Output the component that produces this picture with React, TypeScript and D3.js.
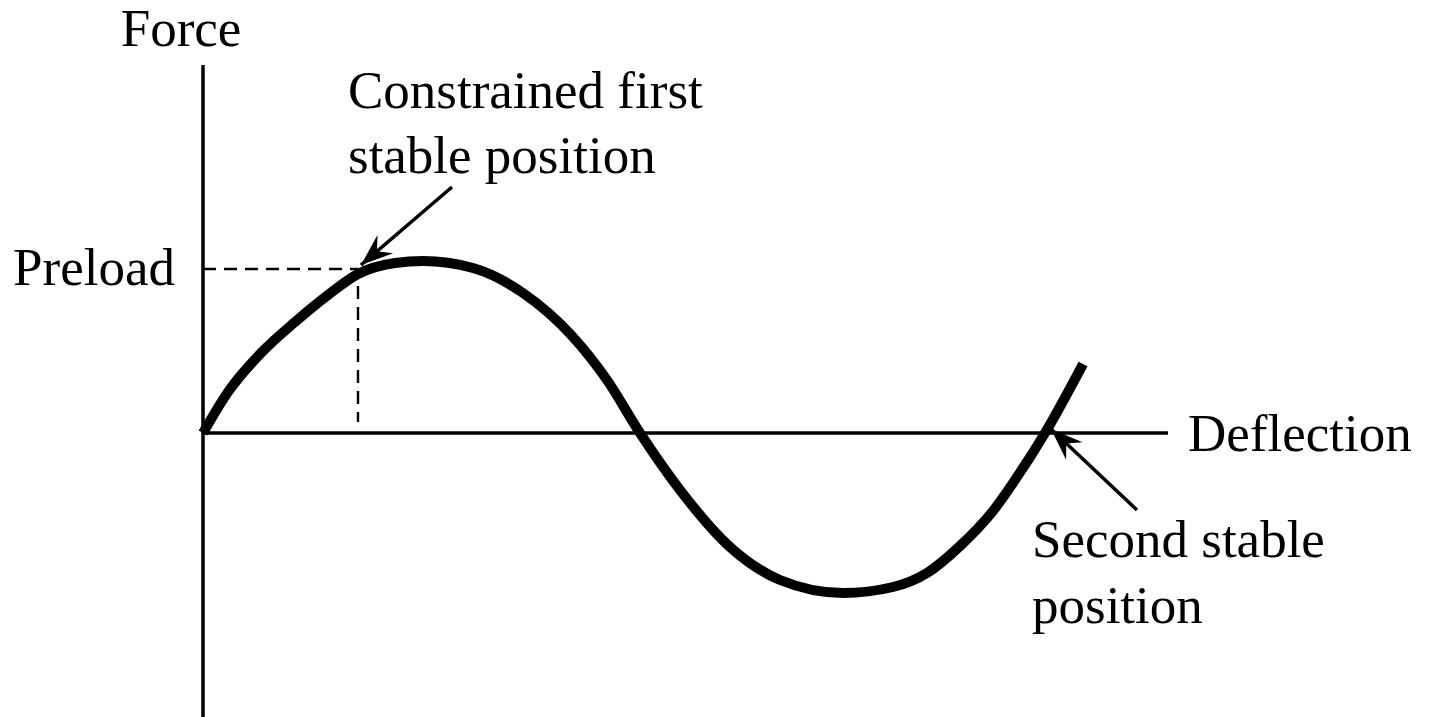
import React, { useEffect, useRef } from "react";
import * as d3 from "d3";

// curve (deflection, force), arbitrary units
const deflection = [0, 2.5, 5.9, 9.2, 12.5, 15.5, 19.2, 22.0, 27.0, 32.0, 37.0, 40.4, 43.7, 47.7, 52.7, 57.7, 64.0, 69.0, 72.4, 75.7, 79.0, 81.0, 84.2, 88.0];
const force = [0, 4.1, 8.1, 11.1, 13.8, 15.9, 17.0, 17.2, 16.5, 14.0, 9.6, 5.3, 0, -5.7, -11.4, -14.7, -16.0, -15.4, -14.0, -11.3, -7.8, -5.0, 0, 6.9];

// constrained first stable position (preload level) and second stable position
const preloadPoint = [15.5, 16.4];
const secondStable = [84.2, 0];

const axisLabels = ["Force", "Deflection"];
const preloadLabel = "Preload";
const firstLabel = ["Constrained first", "stable position"];
const secondLabel = ["Second stable", "position"];

export default function App() {
    const svgRef = useRef<SVGSVGElement>(null);
    const width = 1432;
    const height = 717;

    useEffect(() => {
        const svg = d3.select(svgRef.current);
        svg.selectAll("*").remove();

        const x = d3.scaleLinear().domain([0, 96.5]).range([203, 1168]);
        const y = d3.scaleLinear().domain([-28.4, 36.8]).range([717, 65]);

        const font = "'Liberation Serif', 'Times New Roman', serif";
        const fs = 53;

        svg.append("defs").append("marker")
            .attr("id", "head")
            .attr("markerUnits", "userSpaceOnUse")
            .attr("viewBox", "-34 -14 36 28")
            .attr("refX", 0)
            .attr("refY", 0)
            .attr("markerWidth", 36)
            .attr("markerHeight", 28)
            .attr("orient", "auto")
            .append("path")
            .attr("d", "M0,0 L-32,-12 L-21,0 L-32,12 Z")
            .attr("fill", "#000");

        const g = svg.append("g");

        // axes
        g.append("line")
            .attr("x1", x(0)).attr("x2", x(0))
            .attr("y1", y(36.8)).attr("y2", y(-28.4))
            .attr("stroke", "#000").attr("stroke-width", 3.5);
        g.append("line")
            .attr("x1", x(0)).attr("x2", x(96.5))
            .attr("y1", y(0)).attr("y2", y(0))
            .attr("stroke", "#000").attr("stroke-width", 3.5);

        // dashed guides to the preload point
        g.append("line")
            .attr("x1", x(0)).attr("x2", x(preloadPoint[0]))
            .attr("y1", y(preloadPoint[1])).attr("y2", y(preloadPoint[1]))
            .attr("stroke", "#000").attr("stroke-width", 2.4)
            .attr("stroke-dasharray", "13,8");
        g.append("line")
            .attr("x1", x(preloadPoint[0])).attr("x2", x(preloadPoint[0]))
            .attr("y1", y(preloadPoint[1])).attr("y2", y(1.1))
            .attr("stroke", "#000").attr("stroke-width", 2.4)
            .attr("stroke-dasharray", "13,8")
            .attr("stroke-dashoffset", 4);

        // the force-deflection curve
        const pts = deflection.map((d, i) => [d, force[i]] as [number, number]);
        const line = d3.line<[number, number]>()
            .x(d => x(d[0]))
            .y(d => y(d[1]))
            .curve(d3.curveMonotoneX);

        g.append("path")
            .datum(pts)
            .attr("d", line)
            .attr("fill", "none")
            .attr("stroke", "#000")
            .attr("stroke-width", 10)
            .attr("stroke-linecap", "butt");

        // arrows
        g.append("line")
            .attr("x1", x(24.9)).attr("y1", y(24.6))
            .attr("x2", x(preloadPoint[0]) + 3).attr("y2", y(preloadPoint[1]) - 4)
            .attr("stroke", "#000").attr("stroke-width", 3.5)
            .attr("marker-end", "url(#head)");
        g.append("line")
            .attr("x1", x(93.4)).attr("y1", y(-7.7))
            .attr("x2", x(secondStable[0]) + 6).attr("y2", y(secondStable[1]) - 4)
            .attr("stroke", "#000").attr("stroke-width", 3.5)
            .attr("marker-end", "url(#head)");

        const text = (s: string, tx: number, ty: number, anchor = "start") =>
            g.append("text")
                .attr("x", tx).attr("y", ty)
                .attr("text-anchor", anchor)
                .attr("font-family", font)
                .attr("font-size", fs)
                .attr("fill", "#000")
                .text(s);

        text(axisLabels[0], 181, 46, "middle");
        text(axisLabels[1], 1188, 451);
        text(preloadLabel, 175, 285, "end");
        text(firstLabel[0], 348, 108);
        text(firstLabel[1], 348, 173);
        text(secondLabel[0], 1032, 557);
        text(secondLabel[1], 1032, 623);
    }, []);

    return (
        <svg
            ref={svgRef}
            width={width}
            height={height}
            style={{ position: "absolute", left: 0, top: 0, background: "#fff" }}
        />
    );
}
